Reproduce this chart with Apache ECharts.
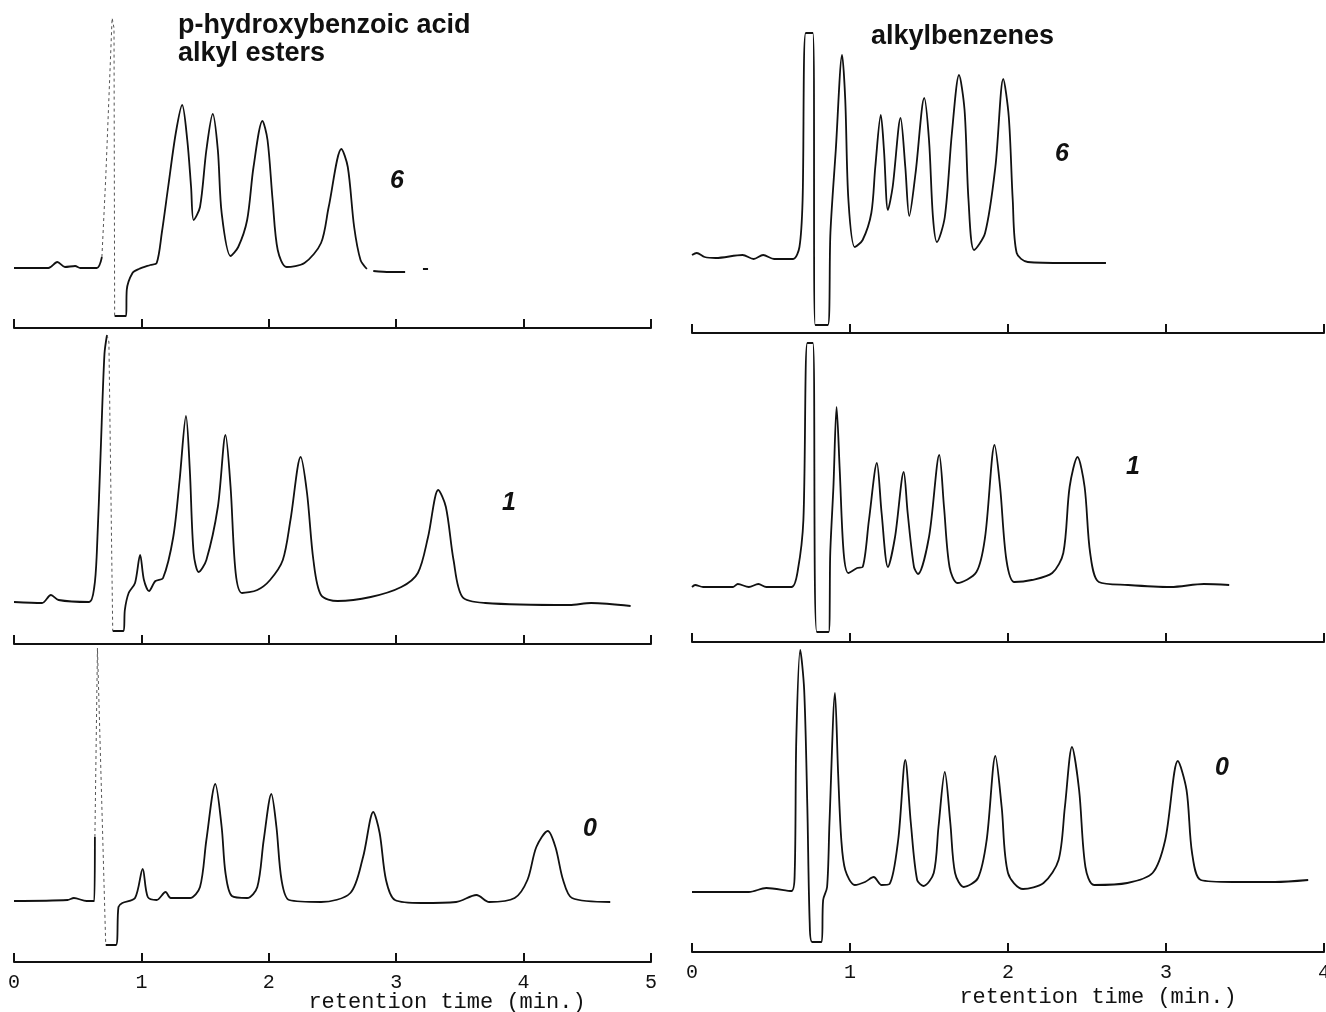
<!DOCTYPE html>
<html>
<head>
<meta charset="utf-8">
<script src="https://cdn.jsdelivr.net/npm/echarts@6/dist/echarts.min.js"></script>
<style>html,body{margin:0;padding:0;background:#fff}#c{width:1326px;height:1012px}</style>
</head>
<body>
<div id="c"></div>
<script>
// ---------- data (time in min, detector signal in arbitrary units) ----------
const leftTicks = ['0','1','2','3','4','5'];
const rightTicks = ['0','1','2','3','4'];
const leftTitle = ['p-hydroxybenzoic acid', 'alkyl esters'];
const rightTitle = 'alkylbenzenes';
const axisName = 'retention time (min.)';
const rowLabels = ['6', '1', '0'];

// p-hydroxybenzoic acid alkyl esters, condition 6
const esters6 = [[0.00,60],[0.27,60],[0.34,66],[0.40,61],[0.48,62],[0.52,60],[0.65,60],[0.69,71],[0.70,null],
  [0.79,12],[0.88,12],[0.885,38],[0.93,55],[0.98,59],[1.07,63],[1.12,65],[1.16,95],[1.21,141],[1.27,195],[1.32,223],
  [1.36,188],[1.39,141],[1.41,108],[1.46,121],[1.51,178],[1.56,214],[1.60,178],[1.63,115],[1.70,72],[1.76,81],
  [1.83,108],[1.88,161],[1.95,207],[1.99,188],[2.03,128],[2.07,78],[2.14,61],[2.28,65],[2.41,85],[2.47,121],
  [2.57,179],[2.62,161],[2.67,101],[2.72,68],[2.77,59],[2.79,null],[2.82,57],[2.95,56],[3.07,56],[3.12,null],
  [3.21,59],[3.25,59]];
const esters6Solvent = [[0.69,71],[0.72,150],[0.77,310],[0.785,300],[0.79,12]];

// condition 1
const esters1 = [[0.00,42],[0.22,41],[0.29,49],[0.35,44],[0.59,42],[0.63,57],[0.65,91],[0.68,191],[0.71,290],[0.73,309],[0.74,null],
  [0.775,13],[0.86,13],[0.87,34],[0.90,51],[0.95,61],[0.99,89],[1.02,64],[1.06,53],[1.11,63],[1.17,66],[1.25,107],
  [1.30,164],[1.35,228],[1.38,174],[1.41,91],[1.45,72],[1.51,84],[1.60,137],[1.66,209],[1.70,157],[1.74,71],[1.79,51],
  [1.91,54],[2.01,64],[2.11,84],[2.17,124],[2.25,187],[2.30,151],[2.35,84],[2.41,49],[2.54,43],[2.80,47],[3.04,57],
  [3.17,71],[3.25,107],[3.33,154],[3.39,137],[3.45,84],[3.52,47],[3.70,41],[4.36,39],[4.53,41],[4.84,38]];
const esters1Solvent = [[0.73,309],[0.745,302],[0.775,13]];

// condition 0
const esters0 = [[0.00,61],[0.42,62],[0.47,64],[0.57,61],[0.63,61],[0.635,125],[0.645,null],
  [0.72,17],[0.80,17],[0.82,55],[0.85,59],[0.95,64],[1.01,93],[1.05,65],[1.12,62],[1.19,70],[1.23,64],[1.38,64],
  [1.46,75],[1.51,122],[1.58,178],[1.63,135],[1.66,89],[1.71,66],[1.83,64],[1.91,75],[1.96,122],[2.02,168],[2.06,135],
  [2.10,82],[2.16,62],[2.41,60],[2.64,69],[2.74,105],[2.82,150],[2.87,129],[2.92,82],[2.99,62],[3.20,59],[3.47,60],
  [3.63,67],[3.73,60],[3.93,64],[4.03,82],[4.10,115],[4.19,131],[4.25,115],[4.31,82],[4.38,64],[4.68,60]];
const esters0Solvent = [[0.635,125],[0.655,314],[0.665,314],[0.72,17]];

// alkylbenzenes, condition 6
const alkyl6 = [[0.00,78],[0.03,80],[0.08,76],[0.15,75],[0.32,78],[0.39,74],[0.45,78],[0.52,74],[0.64,74],[0.68,86],
  [0.70,133],[0.72,300],[0.765,300],[0.78,8],[0.86,8],[0.876,100],[0.91,183],[0.95,278],[0.97,233],[0.99,133],
  [1.03,86],[1.08,93],[1.135,120],[1.16,166],[1.195,218],[1.215,183],[1.24,123],[1.27,146],[1.32,215],[1.35,166],
  [1.375,117],[1.415,160],[1.47,235],[1.50,193],[1.525,116],[1.55,91],[1.60,116],[1.645,200],[1.69,258],[1.725,223],
  [1.75,133],[1.785,83],[1.855,100],[1.92,166],[1.97,254],[2.005,216],[2.03,133],[2.055,80],[2.125,71],[2.365,70],[2.62,70]];

// condition 1
const alkyl1 = [[0.00,55],[0.02,57],[0.07,55],[0.26,55],[0.29,58],[0.36,55],[0.42,58],[0.47,55],[0.63,55],[0.67,72],
  [0.705,122],[0.73,299],[0.765,299],[0.79,10],[0.865,10],[0.875,89],[0.895,155],[0.915,235],[0.935,172],[0.96,89],
  [0.99,69],[1.045,74],[1.08,75],[1.12,122],[1.17,179],[1.20,129],[1.24,75],[1.285,105],[1.34,170],[1.365,129],
  [1.405,75],[1.43,68],[1.50,105],[1.565,187],[1.595,135],[1.63,75],[1.68,59],[1.80,70],[1.855,105],[1.915,197],
  [1.95,155],[1.99,82],[2.04,60],[2.15,62],[2.28,69],[2.35,89],[2.39,155],[2.44,185],[2.485,155],[2.52,89],[2.575,60],
  [2.76,57],[3.03,55],[3.24,58],[3.40,57]];

// condition 0
const alkyl0 = [[0.00,60],[0.36,60],[0.47,64],[0.63,61],[0.65,79],[0.66,212],[0.685,302],[0.71,262],[0.73,145],[0.745,29],
  [0.76,10],[0.82,10],[0.83,52],[0.855,65],[0.87,129],[0.905,259],[0.925,178],[0.945,112],[0.97,82],[1.03,67],[1.095,70],
  [1.15,75],[1.20,67],[1.25,68],[1.305,112],[1.35,192],[1.385,129],[1.425,72],[1.465,66],[1.53,79],[1.56,125],[1.60,180],
  [1.635,129],[1.665,79],[1.72,65],[1.81,74],[1.865,112],[1.92,196],[1.96,145],[2.00,79],[2.095,63],[2.225,69],[2.32,92],
  [2.36,145],[2.405,205],[2.45,162],[2.49,85],[2.545,67],[2.755,69],[2.915,79],[2.995,112],[3.075,191],[3.13,162],
  [3.165,99],[3.22,72],[3.42,70],[3.69,70],[3.90,72]];

// ---------- layout ----------
const H = 318;
const panels = [
  {left:14,  top:10,  width:637, max:5, ticks:leftTicks,  trace:esters6, solvent:esters6Solvent, bottom:false},
  {left:14,  top:326, width:637, max:5, ticks:leftTicks,  trace:esters1, solvent:esters1Solvent, bottom:false},
  {left:14,  top:644, width:637, max:5, ticks:leftTicks,  trace:esters0, solvent:esters0Solvent, bottom:true},
  {left:692, top:15,  width:632, max:4, ticks:rightTicks, trace:alkyl6, solvent:null, bottom:false},
  {left:692, top:324, width:632, max:4, ticks:rightTicks, trace:alkyl1, solvent:null, bottom:false},
  {left:692, top:634, width:632, max:4, ticks:rightTicks, trace:alkyl0, solvent:null, bottom:true}
];

const grid = [], xAxis = [], yAxis = [], series = [];
panels.forEach((p, i) => {
  grid.push({left:p.left, top:p.top, width:p.width, height:H, containLabel:false, outerBoundsMode:'none'});
  xAxis.push({
    type:'value', gridIndex:i, min:0, max:p.max, interval:1,
    axisLine:{show:true, onZero:false, lineStyle:{color:'#111', width:2}},
    axisTick:{show:true, inside:true, length:9, lineStyle:{color:'#111', width:2}},
    axisLabel:{show:p.bottom, color:'#111', fontFamily:'Liberation Mono', fontSize:20, margin:11,
      showMinLabel:true, showMaxLabel:true, hideOverlap:false,
      formatter: v => p.ticks[Math.round(v)] },
    splitLine:{show:false}
  });
  yAxis.push({type:'value', gridIndex:i, min:0, max:H, show:false});
  series.push({
    type:'line', xAxisIndex:i, yAxisIndex:i, data:p.trace, showSymbol:false, symbol:'none',
    smooth:0.3, connectNulls:false,
    lineStyle:{color:'#111', width:1.8}, silent:true, animation:false
  });
  if (p.solvent) {
    series.push({
      type:'line', xAxisIndex:i, yAxisIndex:i, data:p.solvent, showSymbol:false, symbol:'none',
      smooth:false, lineStyle:{color:'#555', width:1, type:[3,3]}, silent:true, animation:false
    });
  }
});

const bold = (s) => 'bold ' + s + 'px "Liberation Sans", Arial, sans-serif';
const label = (s) => 'italic bold ' + s + 'px "Liberation Sans", Arial, sans-serif';
const mono = '22px "Liberation Mono", monospace';
function txt(text, x, y, font, align) {
  return {type:'text', x:x, y:y, silent:true,
    style:{text:text, font:font, fill:'#111', textAlign:align || 'left', textVerticalAlign:'middle'}};
}
const graphic = [
  txt(leftTitle[0], 178, 26, bold(27)),
  txt(leftTitle[1], 178, 54, bold(27)),
  txt(rightTitle, 871, 37, bold(27)),
  txt(rowLabels[0], 397, 181, label(25), 'center'),
  txt(rowLabels[1], 509, 503, label(25), 'center'),
  txt(rowLabels[2], 590, 829, label(25), 'center'),
  txt(rowLabels[0], 1062, 154, label(25), 'center'),
  txt(rowLabels[1], 1133, 467, label(25), 'center'),
  txt(rowLabels[2], 1222, 768, label(25), 'center'),
  txt(axisName, 447, 1002, mono, 'center'),
  txt(axisName, 1098, 997, mono, 'center')
];

const chart = echarts.init(document.getElementById('c'));
chart.setOption({animation:false, backgroundColor:'#fff', grid, xAxis, yAxis, series, graphic});
</script>
</body>
</html>
